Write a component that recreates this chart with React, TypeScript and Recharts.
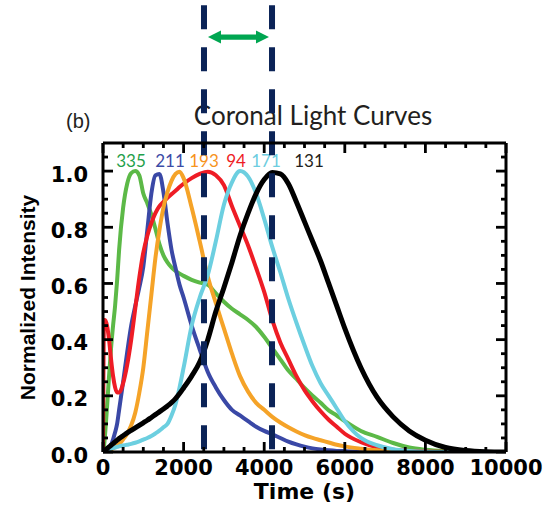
import React from 'react';
import { LineChart, Line, XAxis, YAxis, ReferenceLine } from 'recharts';

// Time samples (s)
const times = [
  0, 25, 50, 100, 150, 200, 250, 300, 350, 400,
  500, 600, 700, 800, 900, 1000, 1100, 1200, 1300, 1400,
  1500, 1600, 1700, 1800, 1900, 2000, 2200, 2400, 2600, 2800,
  3000, 3200, 3400, 3600, 3800, 4000, 4200, 4400, 4600, 4800,
  5000, 5200, 5400, 5600, 5800, 6000, 6400, 6800, 7200, 7600,
  8000, 8500, 9000, 9500, 10000,
];

const aia335 = [
  0, 0.02, 0.06, 0.16, 0.27, 0.37, 0.45, 0.52, 0.61, 0.72,
  0.87, 0.955, 0.993, 1.0, 0.985, 0.92, 0.885, 0.845, 0.795, 0.74,
  0.7, 0.675, 0.657, 0.645, 0.635, 0.627, 0.613, 0.603, 0.595, 0.565,
  0.535, 0.51, 0.49, 0.47, 0.445, 0.41, 0.37, 0.33, 0.29, 0.26,
  0.228, 0.2, 0.175, 0.148, 0.13, 0.11, 0.075, 0.054, 0.032, 0.016,
  0.008, 0.003, 0.001, 0, 0,
];

const aia211 = [
  0, 0, 0.002, 0.005, 0.012, 0.025, 0.045, 0.07, 0.1, 0.15,
  0.25, 0.355, 0.45, 0.52, 0.585, 0.66, 0.79, 0.92, 0.985, 0.99,
  0.925, 0.815, 0.72, 0.655, 0.595, 0.55, 0.45, 0.365, 0.285, 0.23,
  0.185, 0.15, 0.13, 0.11, 0.09, 0.075, 0.063, 0.05, 0.037, 0.027,
  0.019, 0.013, 0.009, 0.006, 0.004, 0.003, 0.001, 0, 0, 0,
  0, 0, 0, 0, 0,
];

const aia94 = [
  0, 0.47, 0.47, 0.45, 0.4, 0.33, 0.27, 0.23, 0.212, 0.212,
  0.245, 0.31, 0.4, 0.51, 0.62, 0.71, 0.77, 0.815, 0.85, 0.875,
  0.89, 0.905, 0.918, 0.93, 0.943, 0.955, 0.975, 0.99, 0.998, 0.985,
  0.95, 0.875, 0.805, 0.735, 0.655, 0.57, 0.47, 0.39, 0.33, 0.27,
  0.22, 0.18, 0.145, 0.115, 0.09, 0.065, 0.035, 0.017, 0.008, 0.004,
  0.002, 0.001, 0, 0, 0,
];

const aia193 = [
  0, 0, 0, 0, 0.003, 0.008, 0.012, 0.017, 0.022, 0.028,
  0.045, 0.065, 0.095, 0.14, 0.21, 0.3, 0.43, 0.56, 0.69, 0.79,
  0.87, 0.925, 0.965, 0.99, 0.998, 0.975, 0.87, 0.75, 0.625, 0.53,
  0.44, 0.35, 0.27, 0.215, 0.175, 0.15, 0.125, 0.105, 0.088, 0.073,
  0.06, 0.05, 0.042, 0.034, 0.026, 0.02, 0.012, 0.006, 0.003, 0.001,
  0, 0, 0, 0, 0,
];

const aia171 = [
  0, 0.001, 0.003, 0.006, 0.009, 0.012, 0.014, 0.016, 0.018, 0.02,
  0.023, 0.026, 0.029, 0.033, 0.038, 0.044, 0.05, 0.057, 0.066, 0.076,
  0.088, 0.1, 0.13, 0.17, 0.23, 0.3, 0.45, 0.55, 0.63, 0.75,
  0.88, 0.96, 1.0, 0.98, 0.92, 0.83, 0.73, 0.64, 0.545, 0.46,
  0.38, 0.305, 0.245, 0.2, 0.155, 0.11, 0.05, 0.024, 0.01, 0.004,
  0.001, 0, 0, 0, 0,
];

const aia131 = [
  0, 0.003, 0.006, 0.012, 0.018, 0.024, 0.03, 0.036, 0.042, 0.048,
  0.058, 0.068, 0.077, 0.086, 0.095, 0.104, 0.113, 0.123, 0.133, 0.143,
  0.153, 0.164, 0.176, 0.19, 0.208, 0.228, 0.27, 0.32, 0.4, 0.5,
  0.585, 0.675, 0.77, 0.85, 0.92, 0.97, 0.995, 0.99, 0.955, 0.89,
  0.82, 0.75, 0.68, 0.6, 0.52, 0.44, 0.3, 0.195, 0.125, 0.075,
  0.042, 0.016, 0.005, 0.001, 0,
];

const channelNames = ['335', '211', '193', '94', '171', '131'];

const xMajorTicks = [0, 2000, 4000, 6000, 8000, 10000];
const xAllTicks = [
  0, 500, 1000, 1500, 2000, 2500, 3000, 3500, 4000, 4500, 5000,
  5500, 6000, 6500, 7000, 7500, 8000, 8500, 9000, 9500, 10000,
];
const yMajorTicks = [0, 0.2, 0.4, 0.6, 0.8, 1.0];
const yAllTicks = [
  0, 0.05, 0.1, 0.15, 0.2, 0.25, 0.3, 0.35, 0.4, 0.45, 0.5,
  0.55, 0.6, 0.65, 0.7, 0.75, 0.8, 0.85, 0.9, 0.95, 1.0, 1.05,
];

const X_MAX = 10000;
const Y_MAX = 1.1;

// Marked times (dashed lines) and the interval arrow between them
const markTimes = [2506, 4194];
const arrowSpan = [2605, 4119];

const data = times.map((t, i) => ({
  t,
  c335: aia335[i],
  c211: aia211[i],
  c94: aia94[i],
  c193: aia193[i],
  c171: aia171[i],
  c131: aia131[i],
}));

const series = [
  { key: 'c335', color: '#5cb947', width: 4 },
  { key: 'c211', color: '#3a48a6', width: 4 },
  { key: 'c94', color: '#ee1c25', width: 4 },
  { key: 'c193', color: '#f5a328', width: 4 },
  { key: 'c171', color: '#6ccfe0', width: 4 },
  { key: 'c131', color: '#000000', width: 5 },
];

const labelColors = ['#1fa04b', '#3b4ba6', '#f7941d', '#ee1c25', '#6dcde0', '#231f20'];
const labelX = [131, 170, 204, 236, 266, 309];

const DASH_TOP = 1.59;
const ARROW_Y = 1.477;

// layout
const MARGIN = { top: 143, right: 52, bottom: 0, left: 0 };
const CHART_W = 558;
const CHART_H = 511;
const Y_AXIS_W = 103;
const X_AXIS_H = 59;
const PLOT_W = CHART_W - MARGIN.left - MARGIN.right - Y_AXIS_W;
const PLOT_H = CHART_H - MARGIN.top - MARGIN.bottom - X_AXIS_H;
const X_TICK_MARGIN = 7;
const Y_TICK_MARGIN = 15;
const MAJOR_LEN = 10;
const MINOR_LEN = 5;

const labelFont = { fontFamily: 'DejaVu Sans', fontWeight: 'bold' as const, fontSize: 21, fill: '#000' };
const frameStroke = { stroke: '#000', strokeWidth: 3 };

const isMajor = (list: number[], v: number) => list.some((m) => Math.abs(m - v) < 1e-9);

const XTick = (p: any) => {
  const { x, y, payload } = p;
  const v = payload.value;
  const major = isMajor(xMajorTicks, v);
  const len = major ? MAJOR_LEN : MINOR_LEN;
  const base = y - X_TICK_MARGIN;
  const top = base - PLOT_H;
  return (
    <g>
      <rect x={x - 1.4} y={base - len} width={2.8} height={len} fill="#000" />
      <rect x={x - 1.4} y={top} width={2.8} height={len} fill="#000" />
      {major && (
        <text x={x} y={y} dy="0.74em" textAnchor="middle" {...labelFont}>
          {v}
        </text>
      )}
    </g>
  );
};

const YTick = (p: any) => {
  const { x, y, payload } = p;
  const v = payload.value;
  const major = isMajor(yMajorTicks, v);
  const len = major ? MAJOR_LEN : MINOR_LEN;
  const base = x + Y_TICK_MARGIN;
  const right = base + PLOT_W;
  return (
    <g>
      <rect x={base} y={y - 1.4} width={len} height={2.8} fill="#000" />
      <rect x={right - len} y={y - 1.4} width={len} height={2.8} fill="#000" />
      {major && (
        <text x={x} y={y + 3} dy="0.36em" textAnchor="end" {...labelFont}>
          {v.toFixed(1)}
        </text>
      )}
    </g>
  );
};

const arrowShape = (p: any) => {
  const { x1, y1, x2 } = p;
  const y = y1;
  const hl = 13;
  const hh = 6.5;
  const sw = 2.7;
  const pts = [
    [x1, y], [x1 + hl, y - hh], [x1 + hl, y - sw], [x2 - hl, y - sw], [x2 - hl, y - hh],
    [x2, y], [x2 - hl, y + hh], [x2 - hl, y + sw], [x1 + hl, y + sw], [x1 + hl, y + hh],
  ].map((q) => q.join(',')).join(' ');
  return <polygon points={pts} fill="#00a651" />;
};

const YTitle = (p: any) => {
  const vb = p.viewBox || { x: 0, y: 143, width: 103, height: 309 };
  const cx = vb.x + 27;
  const cy = vb.y + vb.height / 2;
  return (
    <text
      x={cx}
      y={cy}
      transform={`rotate(-90 ${cx} ${cy})`}
      textAnchor="middle"
      dominantBaseline="central"
      fontFamily="Liberation Sans"
      fontWeight="bold"
      fontSize={21}
      fill="#000"
    >
      Normalized Intensity
    </text>
  );
};

export default function App() {
  return (
    <div style={{ position: 'absolute', left: 0, top: 0, width: CHART_W, height: CHART_H, background: '#fff' }}>
      <svg width={CHART_W} height={CHART_H} style={{ position: 'absolute', left: 0, top: 0 }}>
        <text x={66} y={128} fontFamily="Liberation Sans" fontSize={20} fill="#231f20">(b)</text>
        <text x={313} y={125} textAnchor="middle" fontFamily="Lato" fontSize={26} fill="#231f20">
          Coronal Light Curves
        </text>
        {channelNames.map((n, i) => (
          <text key={n} x={labelX[i]} y={167} textAnchor="middle" fontFamily="Lato" fontSize={17} fill={labelColors[i]}>
            {n}
          </text>
        ))}
      </svg>
      <div style={{ position: 'absolute', left: 0, top: 0 }}>
        <LineChart width={CHART_W} height={CHART_H} data={data} margin={MARGIN}>
          <XAxis
            xAxisId="x"
            dataKey="t"
            type="number"
            domain={[0, X_MAX]}
            allowDataOverflow
            ticks={xAllTicks}
            interval={0}
            height={X_AXIS_H}
            tickLine={false}
            tickSize={0}
            tickMargin={X_TICK_MARGIN}
            tick={<XTick />}
            axisLine={frameStroke}
            label={{
              value: 'Time (s)',
              position: 'insideBottom',
              offset: 12,
              fontFamily: 'DejaVu Sans',
              fontWeight: 'bold',
              fontSize: 22,
              fill: '#000',
            }}
          />
          <YAxis
            yAxisId="y"
            type="number"
            domain={[0, Y_MAX]}
            allowDataOverflow
            ticks={yAllTicks}
            interval={0}
            width={Y_AXIS_W}
            tickLine={false}
            tickSize={0}
            tickMargin={Y_TICK_MARGIN}
            tick={<YTick />}
            axisLine={frameStroke}
            label={{ content: YTitle }}
          />
          {/* top and right frame lines */}
          <XAxis xAxisId="xt" dataKey="t" type="number" domain={[0, X_MAX]} allowDataOverflow orientation="top" mirror height={1}
            ticks={xMajorTicks} tick={false} tickLine={false} axisLine={frameStroke} />
          <YAxis yAxisId="yr" type="number" domain={[0, Y_MAX]} allowDataOverflow orientation="right" mirror width={1}
            ticks={yMajorTicks} tick={false} tickLine={false} axisLine={frameStroke} />

          {series.map((s) => (
            <Line
              key={s.key}
              xAxisId="x"
              yAxisId="y"
              dataKey={s.key}
              type="monotone"
              stroke={s.color}
              strokeWidth={s.width}
              dot={false}
              activeDot={false}
              isAnimationActive={false}
            />
          ))}

          {markTimes.map((t) => (
            <ReferenceLine
              key={t}
              xAxisId="x"
              yAxisId="y"
              segment={[{ x: t, y: DASH_TOP }, { x: t, y: 0 }]}
              ifOverflow="visible"
              stroke="#0b2357"
              strokeWidth={6}
              strokeDasharray="24 18"
            />
          ))}
          <ReferenceLine
            xAxisId="x"
            yAxisId="y"
            segment={[{ x: arrowSpan[0], y: ARROW_Y }, { x: arrowSpan[1], y: ARROW_Y }]}
            ifOverflow="visible"
            shape={arrowShape}
          />
        </LineChart>
      </div>
    </div>
  );
}
